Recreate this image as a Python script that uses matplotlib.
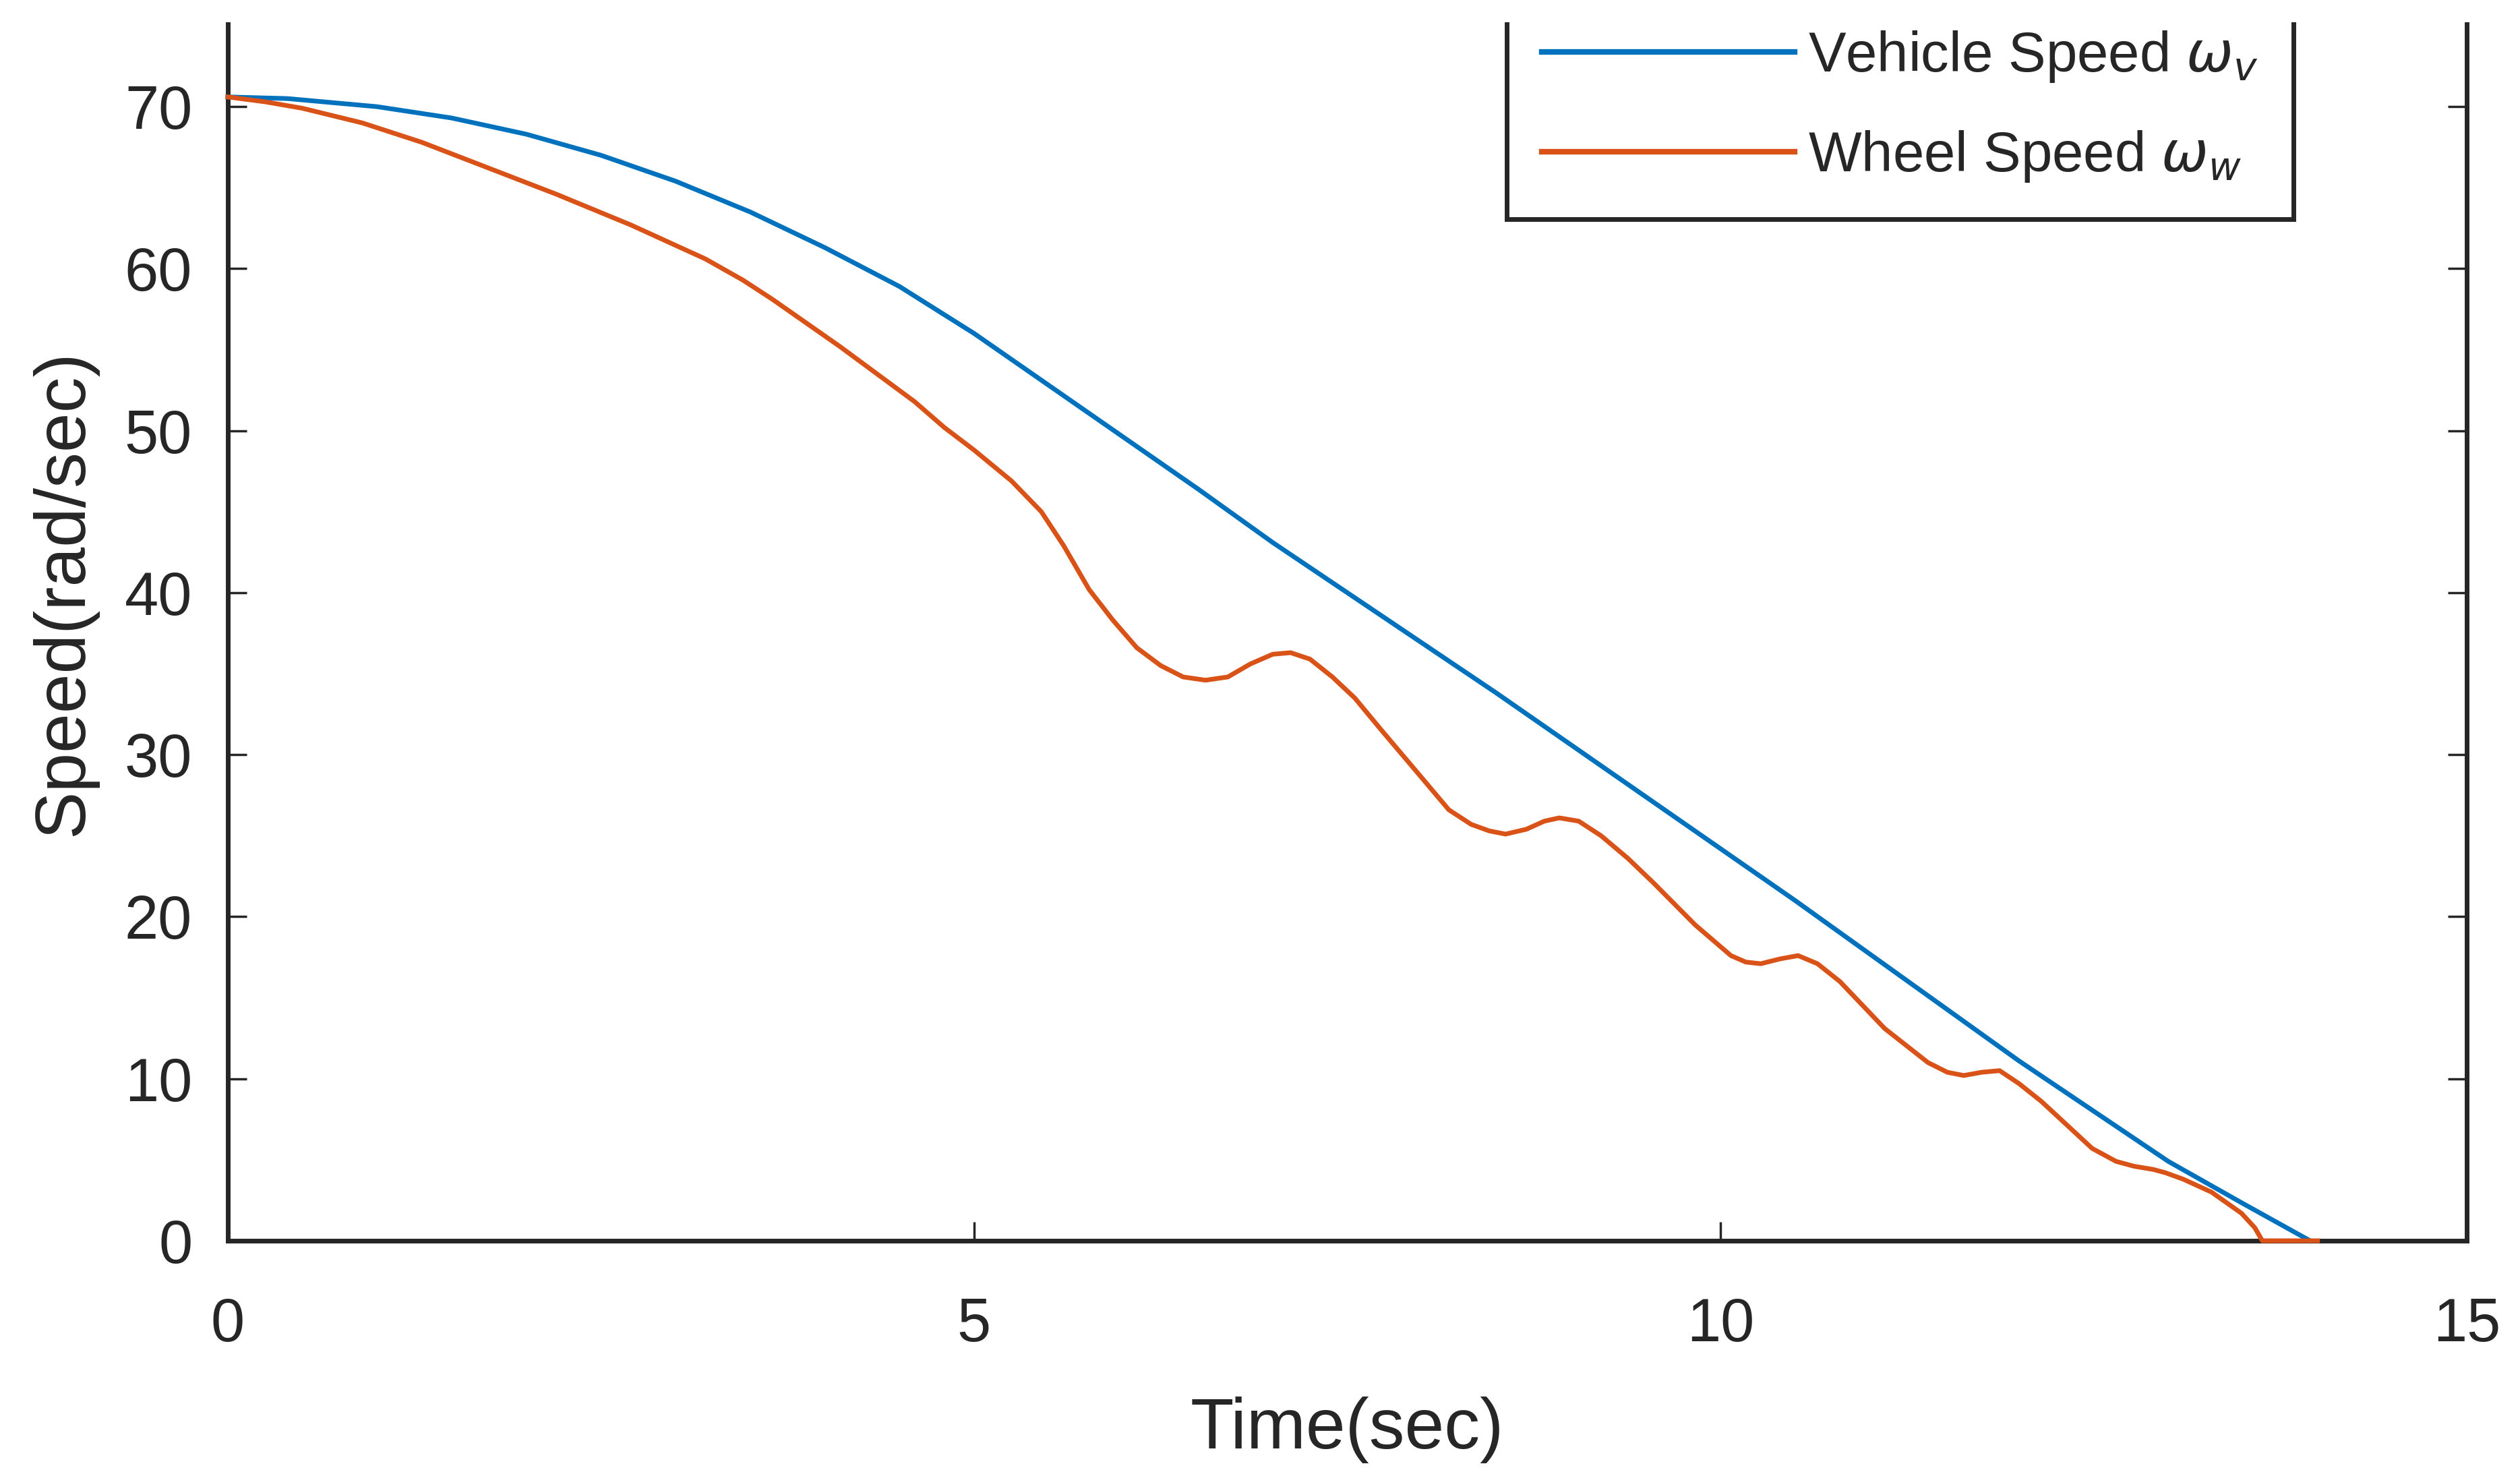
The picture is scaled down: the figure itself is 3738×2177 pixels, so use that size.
import matplotlib
matplotlib.use("Agg")
import matplotlib.pyplot as plt
from matplotlib.patches import Rectangle

plt.rcParams['font.family'] = ['Liberation Sans', 'DejaVu Sans']
plt.rcParams['mathtext.fontset'] = 'dejavusans'

# vehicle speed (blue)
t_vehicle = [0.0, 0.4, 1.0, 1.5, 2.0, 2.5, 3.0, 3.5, 4.0, 4.5, 5.0, 5.5, 6.0,
             6.5, 7.0, 7.5, 8.0, 8.5, 9.0, 9.5, 10.0, 10.5, 11.0, 11.5, 12.0,
             12.5, 13.0, 13.5, 13.95]
w_vehicle = [70.6, 70.5, 70.0, 69.3, 68.3, 67.0, 65.4, 63.5, 61.3, 58.9, 56.0,
             52.8, 49.6, 46.4, 43.1, 40.0, 36.9, 33.8, 30.6, 27.4, 24.2, 21.0,
             17.7, 14.4, 11.1, 8.0, 4.9, 2.3, 0.0]

# wheel speed (orange)
t_wheel = [0.0, 0.25, 0.5, 0.9, 1.3, 1.75, 2.2, 2.7, 3.2, 3.45, 3.65, 4.1,
           4.35, 4.6, 4.8, 5.0, 5.25, 5.45, 5.6, 5.77, 5.93, 6.09, 6.25, 6.4,
           6.55, 6.7, 6.85, 7.0, 7.12, 7.25, 7.4, 7.55, 7.73, 7.96, 8.18, 8.33,
           8.45, 8.56, 8.7, 8.82, 8.92, 9.05, 9.2, 9.38, 9.55, 9.83, 10.07,
           10.17, 10.27, 10.4, 10.52, 10.65, 10.8, 11.1, 11.39, 11.52, 11.63,
           11.75, 11.87, 12.0, 12.15, 12.49, 12.65, 12.77, 12.9, 12.98, 13.1,
           13.29, 13.49, 13.58, 13.63, 14.0]
w_wheel = [70.6, 70.3, 69.9, 69.0, 67.8, 66.2, 64.6, 62.7, 60.6, 59.3, 58.1,
           55.2, 53.5, 51.8, 50.2, 48.8, 46.9, 45.0, 42.9, 40.2, 38.3, 36.6,
           35.5, 34.8, 34.6, 34.8, 35.6, 36.2, 36.3, 35.9, 34.8, 33.5, 31.5,
           29.0, 26.6, 25.7, 25.3, 25.1, 25.4, 25.9, 26.1, 25.9, 25.0, 23.6,
           22.1, 19.5, 17.6, 17.2, 17.1, 17.4, 17.6, 17.1, 16.0, 13.1, 11.0,
           10.4, 10.2, 10.4, 10.5, 9.7, 8.6, 5.7, 4.9, 4.6, 4.4, 4.2, 3.8, 3.0,
           1.7, 0.8, 0.0, 0.0]

x_ticks = [0, 5, 10, 15]
y_ticks = [0, 10, 20, 30, 40, 50, 60, 70]

dark = '#262626'

fig = plt.figure(figsize=(37.38, 21.77), dpi=100)
ax = fig.add_axes([0.0904, 0.1548, 0.8885, 0.8829])

ax.plot(t_vehicle, w_vehicle, color='#0072BD', lw=5, label=r'Vehicle Speed $\omega_v$',
        zorder=3, clip_on=False)
ax.plot(t_wheel, w_wheel, color='#D95319', lw=5, label=r'Wheel Speed $\omega_w$',
        zorder=3, clip_on=False)

ax.set_xlim(0, 15)
ax.set_ylim(0, 80)
ax.set_xticks(x_ticks)
ax.set_yticks(y_ticks)

for s in ax.spines.values():
    s.set_linewidth(5)
    s.set_color(dark)

ax.tick_params(direction='in', length=20, width=2.5, colors=dark,
               top=True, right=True, labelsize=65)
ax.tick_params(axis='x', pad=60)
ax.tick_params(axis='y', pad=38)

ax.set_xlabel('Time(sec)', fontsize=76, color=dark, va='center')
ax.set_ylabel('Speed(rad/sec)', fontsize=76, color=dark, va='center')
ax.xaxis.set_label_coords(0.5, -0.1457)
ax.yaxis.set_label_coords(-0.0732, 0.5)

leg = ax.legend(loc='lower right', bbox_to_anchor=(0.9226, 0.7882),
                fontsize=60, handlelength=4.5, handletextpad=0.25,
                labelspacing=0.8, borderpad=0.62, borderaxespad=0,
                fancybox=False, framealpha=1)
leg.get_frame().set_edgecolor(dark)
leg.get_frame().set_linewidth(5)
for line in leg.get_lines():
    line.set_linewidth(6)
for txt in leg.get_texts():
    txt.set_color(dark)

# the source image is cut off at the top
fig.add_artist(Rectangle((0, 0.985), 1, 0.02, transform=fig.transFigure,
                         facecolor='white', edgecolor='none', zorder=10))

fig.savefig('out.png', dpi=100)
